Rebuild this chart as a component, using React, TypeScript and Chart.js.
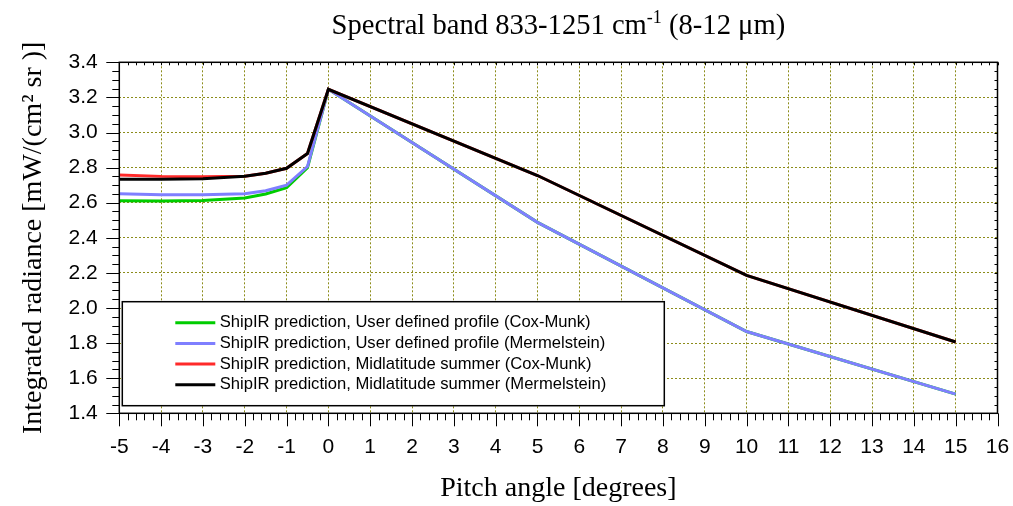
import React, { useEffect, useRef } from 'react';
import { Chart, registerables } from 'chart.js';

Chart.register(...registerables);

// ---- data ----
const pitchAngles = [-5, -4, -3, -2, -1.5, -1, -0.5, 0, 5, 10, 15];
const userCoxMunk = [2.611, 2.609, 2.613, 2.627, 2.650, 2.685, 2.800, 3.246, 2.488, 1.866, 1.509];
const userMermelstein = [2.651, 2.645, 2.645, 2.651, 2.668, 2.700, 2.806, 3.246, 2.488, 1.866, 1.509];
const midlatCoxMunk = [2.758, 2.750, 2.748, 2.751, 2.768, 2.796, 2.880, 3.246, 2.755, 2.186, 1.806];
const midlatMermelstein = [2.734, 2.734, 2.736, 2.751, 2.768, 2.796, 2.880, 3.246, 2.755, 2.186, 1.806];

const seriesLabels = [
  'ShipIR prediction, User defined profile (Cox-Munk)',
  'ShipIR prediction, User defined profile (Mermelstein)',
  'ShipIR prediction, Midlatitude summer (Cox-Munk)',
  'ShipIR prediction, Midlatitude summer (Mermelstein)',
];
const seriesColors = ['#00cc00', '#7f7fff', '#ff2a2a', '#000000'];

const xTickLabels = ['-5', '-4', '-3', '-2', '-1', '0', '1', '2', '3', '4', '5', '6', '7', '8', '9', '10', '11', '12', '13', '14', '15', '16'];
const yTickLabels = ['1.4', '1.6', '1.8', '2.0', '2.2', '2.4', '2.6', '2.8', '3.0', '3.2', '3.4'];

// title pieces: [text, superscript?]
const titleParts: [string, boolean][] = [
  ['Spectral band 833-1251 cm', false],
  ['-1', true],
  [' (8-12 \u03BCm)', false],
];
const xTitle = 'Pitch angle [degrees]';
const yTitle = 'Integrated radiance [mW/(cm\u00B2 sr )]';

const X_MIN = -5, X_MAX = 16, Y_MIN = 1.4, Y_MAX = 3.4;

const SANS = '"Liberation Sans", Arial, sans-serif';
const SERIF = '"Liberation Serif", "Times New Roman", serif';

const titlePlugin = {
  id: 'supTitle',
  afterDraw(chart: any) {
    const { ctx, chartArea: a } = chart;
    ctx.save();
    const mainFont = '28.6px ' + SERIF;
    const supFont = '18px ' + SERIF;
    let total = 0;
    const widths = titleParts.map(([t, sup]) => {
      ctx.font = sup ? supFont : mainFont;
      const w = ctx.measureText(t).width;
      total += w;
      return w;
    });
    let x = (a.left + a.right) / 2 - total / 2;
    const baseline = 33.5;
    ctx.fillStyle = '#000';
    ctx.textBaseline = 'alphabetic';
    ctx.textAlign = 'left';
    titleParts.forEach(([t, sup], i) => {
      ctx.font = sup ? supFont : mainFont;
      ctx.fillText(t, x, sup ? baseline - 11 : baseline);
      x += widths[i];
    });
    ctx.restore();
  },
};

const frameTicksPlugin = {
  id: 'frameTicks',
  afterDatasetsDraw(chart: any) {
    const { ctx, chartArea: a, scales } = chart;
    const x = scales.x, y = scales.y;
    ctx.save();
    ctx.strokeStyle = '#000';
    ctx.lineWidth = 1;
    ctx.beginPath();
    const nx = Math.round((X_MAX - X_MIN) / 0.2);
    for (let i = 0; i <= nx; i++) {
      const v = X_MIN + i * 0.2;
      const px = Math.round(x.getPixelForValue(v)) + 0.5;
      const len = i % 5 === 0 ? 13 : 7;
      ctx.moveTo(px, a.bottom);
      ctx.lineTo(px, a.bottom + len);
      ctx.moveTo(px, a.top);
      ctx.lineTo(px, a.top + 3);
    }
    const ny = Math.round((Y_MAX - Y_MIN) / 0.05);
    for (let i = 0; i <= ny; i++) {
      const v = Y_MIN + i * 0.05;
      const py = Math.round(y.getPixelForValue(v)) + 0.5;
      const len = i % 4 === 0 ? 13 : 7;
      ctx.moveTo(a.left, py);
      ctx.lineTo(a.left - len, py);
      ctx.moveTo(a.right, py);
      ctx.lineTo(a.right - 3, py);
    }
    ctx.stroke();
    ctx.lineWidth = 1.5;
    ctx.strokeRect(a.left, a.top, a.right - a.left, a.bottom - a.top);
    ctx.restore();
  },
};

const boxLegendPlugin = {
  id: 'boxLegend',
  afterDraw(chart: any) {
    const { ctx, chartArea: a } = chart;
    const left = a.left + 3;
    const w = 542;
    const h = 104;
    const bottom = a.bottom - 7.6;
    const top = bottom - h;
    ctx.save();
    ctx.fillStyle = '#ffffff';
    ctx.fillRect(left, top, w, h);
    ctx.lineWidth = 1.5;
    ctx.strokeStyle = '#000';
    ctx.strokeRect(left, top, w, h);
    ctx.font = '16.6px ' + SANS;
    ctx.textBaseline = 'middle';
    ctx.textAlign = 'left';
    chart.data.datasets.forEach((ds: any, i: number) => {
      const cy = top + 21 + i * 20.7;
      ctx.strokeStyle = ds.borderColor;
      ctx.lineWidth = 3;
      ctx.beginPath();
      ctx.moveTo(left + 53, cy);
      ctx.lineTo(left + 93, cy);
      ctx.stroke();
      ctx.fillStyle = '#000';
      ctx.fillText(ds.label, left + 97.5, cy);
    });
    ctx.restore();
  },
};

export default function App() {
  const canvasRef = useRef<HTMLCanvasElement | null>(null);

  useEffect(() => {
    if (!canvasRef.current) return;
    const seriesData = [userCoxMunk, userMermelstein, midlatCoxMunk, midlatMermelstein];
    const datasets = seriesData.map((vals, i) => ({
      label: seriesLabels[i],
      data: pitchAngles.map((p, j) => ({ x: p, y: vals[j] })),
      borderColor: seriesColors[i],
      backgroundColor: seriesColors[i],
      borderWidth: 3,
      pointRadius: 0,
      tension: 0,
      fill: false,
      order: 4 - i,
    }));

    const chart = new Chart(canvasRef.current, {
      type: 'line',
      data: { datasets },
      options: {
        animation: false,
        responsive: false,
        maintainAspectRatio: false,
        layout: { padding: { left: 0, top: 62.3, right: 0, bottom: 0 } },
        plugins: {
          legend: { display: false },
          tooltip: { enabled: false },
          title: { display: false },
        },
        scales: {
          x: {
            type: 'linear',
            min: X_MIN,
            max: X_MAX,
            afterFit: (s: any) => {
              s.height = 92.7;
              s.paddingLeft = 0;
              s.paddingRight = 15.5;
            },
            ticks: {
              stepSize: 1,
              autoSkip: false,
              maxRotation: 0,
              color: '#000',
              padding: 21,
              font: { family: SANS, size: 21 },
              callback: (v: any) => xTickLabels.find((l) => Math.abs(parseFloat(l) - v) < 1e-6) ?? '',
            },
            grid: {
              color: (c: any) => (c.tick && (c.tick.value <= X_MIN || c.tick.value >= X_MAX) ? 'rgba(0,0,0,0)' : '#8c8c1a'),
              lineWidth: 1,
              drawTicks: false,
            },
            border: { display: false, dash: [2, 2] },
            title: {
              display: true,
              text: xTitle,
              color: '#000',
              font: { family: SERIF, size: 28, weight: 'normal' },
              padding: { top: 0, bottom: 0.2 },
            },
          },
          y: {
            type: 'linear',
            min: Y_MIN,
            max: Y_MAX,
            afterFit: (s: any) => {
              s.width = 119.3;
              s.paddingTop = 0;
              s.paddingBottom = 0;
            },
            ticks: {
              stepSize: 0.2,
              autoSkip: false,
              color: '#000',
              padding: 21.5,
              font: { family: SANS, size: 21 },
              callback: (v: any) => yTickLabels.find((l) => Math.abs(parseFloat(l) - v) < 1e-6) ?? '',
            },
            grid: {
              color: (c: any) => (c.tick && (c.tick.value <= Y_MIN + 1e-6 || c.tick.value >= Y_MAX - 1e-6) ? 'rgba(0,0,0,0)' : '#8c8c1a'),
              lineWidth: 1,
              drawTicks: false,
            },
            border: { display: false, dash: [2, 2] },
            title: {
              display: true,
              text: yTitle,
              color: '#000',
              font: { family: SERIF, size: 28, weight: 'normal' },
              padding: { top: 16.7, bottom: 0 },
            },
          },
        },
      },
      plugins: [frameTicksPlugin, boxLegendPlugin, titlePlugin],
    } as any);

    return () => chart.destroy();
  }, []);

  return (
    <div style={{ position: 'absolute', left: 0, top: 0, width: 1013, height: 506, background: '#fff' }}>
      <canvas ref={canvasRef} width={1013} height={506} style={{ width: 1013, height: 506, display: 'block' }} />
    </div>
  );
}
